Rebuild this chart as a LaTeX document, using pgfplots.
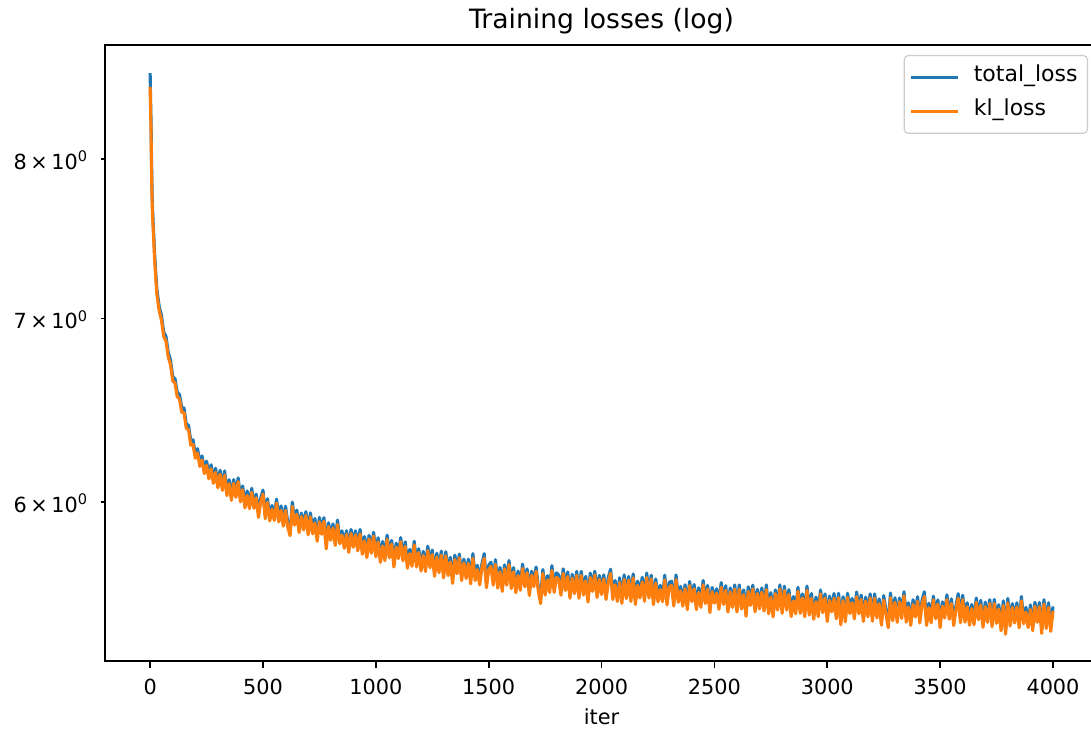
\documentclass[border=0pt]{standalone}
\usepackage{fontspec}
\setmainfont{DejaVu Sans}
\usepackage{pgfplots}
\usepackage{pgfplotstable}
\pgfplotsset{compat=1.18}
\definecolor{mplblue}{HTML}{1F77B4}
\definecolor{mplorange}{HTML}{FF7F0E}
\definecolor{legframe}{HTML}{CCCCCC}

\pgfplotstableread{
iter total kl
0 8.600 8.500
2 8.405 8.330
4 8.265 8.200
6 8.010 7.950
8 7.830 7.780
10 7.695 7.650
15 7.540 7.500
20 7.385 7.350
25 7.272 7.240
30 7.170 7.140
40 7.073 7.045
50 7.018 6.990
60 6.921 6.895
70 6.896 6.868
80 6.804 6.778
90 6.761 6.735
100 6.667 6.642
110 6.655 6.630
120 6.580 6.555
130 6.567 6.542
140 6.495 6.470
150 6.493 6.468
160 6.408 6.384
170 6.399 6.375
180 6.317 6.293
190 6.322 6.298
200 6.248 6.225
210 6.275 6.252
220 6.205 6.182
230 6.237 6.215
240 6.167 6.145
250 6.210 6.188
260 6.140 6.118
270 6.191 6.170
280 6.116 6.095
290 6.173 6.152
300 6.093 6.072
310 6.162 6.142
320 6.077 6.059
330 6.159 6.137
340 6.052 6.033
350 6.114 6.093
360 6.029 6.009
370 6.114 6.096
380 6.046 6.024
390 6.123 6.104
400 6.022 6.001
410 6.082 6.062
420 5.989 5.971
430 6.056 6.034
440 5.986 5.967
450 6.070 6.049
460 5.989 5.969
470 6.040 6.022
480 5.945 5.923
490 6.021 6.002
500 6.061 6.040
510 5.937 5.917
520 6.017 5.999
530 5.928 5.906
540 5.983 5.964
550 5.930 5.909
560 6.015 5.995
570 5.919 5.901
580 5.981 5.959
590 5.899 5.880
600 5.979 5.958
610 5.894 5.874
620 5.851 5.833
630 6.000 5.978
640 5.904 5.885
650 5.960 5.939
660 5.868 5.848
670 5.945 5.927
680 5.883 5.861
690 5.952 5.933
700 5.858 5.837
710 5.946 5.926
720 5.860 5.842
730 5.918 5.896
740 5.825 5.806
750 5.923 5.902
760 5.860 5.840
770 5.922 5.904
780 5.791 5.769
790 5.897 5.878
800 5.832 5.811
810 5.891 5.871
820 5.804 5.786
830 5.910 5.888
840 5.813 5.794
850 5.857 5.836
860 5.792 5.772
870 5.858 5.840
880 5.774 5.752
890 5.864 5.845
900 5.798 5.777
910 5.857 5.837
920 5.777 5.759
930 5.864 5.842
940 5.762 5.743
950 5.829 5.808
960 5.747 5.727
970 5.835 5.817
980 5.770 5.748
990 5.850 5.831
1000 5.752 5.731
1010 5.823 5.803
1020 5.722 5.704
1030 5.805 5.783
1040 5.731 5.712
1050 5.836 5.815
1060 5.746 5.726
1070 5.810 5.792
1080 5.704 5.682
1090 5.797 5.778
1100 5.743 5.722
1110 5.824 5.804
1120 5.729 5.711
1130 5.803 5.781
1140 5.695 5.676
1150 5.767 5.746
1160 5.705 5.685
1170 5.806 5.788
1180 5.704 5.682
1190 5.770 5.751
1200 5.684 5.663
1210 5.757 5.737
1220 5.678 5.660
1230 5.782 5.760
1240 5.697 5.678
1250 5.763 5.742
1260 5.658 5.638
1270 5.748 5.730
1280 5.677 5.655
1290 5.758 5.739
1300 5.651 5.630
1310 5.755 5.735
1320 5.659 5.641
1330 5.728 5.706
1340 5.623 5.604
1350 5.739 5.718
1360 5.670 5.650
1370 5.744 5.726
1380 5.639 5.617
1390 5.720 5.701
1400 5.648 5.627
1410 5.719 5.699
1420 5.620 5.602
1430 5.746 5.724
1440 5.636 5.617
1450 5.690 5.669
1460 5.617 5.597
1470 5.696 5.678
1480 5.746 5.724
1490 5.603 5.584
1500 5.690 5.669
1510 5.705 5.685
1520 5.614 5.596
1530 5.717 5.695
1540 5.601 5.582
1550 5.680 5.659
1560 5.587 5.567
1570 5.692 5.674
1580 5.618 5.596
1590 5.713 5.694
1600 5.601 5.580
1610 5.679 5.659
1620 5.579 5.561
1630 5.663 5.641
1640 5.591 5.572
1650 5.696 5.675
1660 5.608 5.588
1670 5.673 5.655
1680 5.569 5.547
1690 5.662 5.643
1700 5.610 5.589
1710 5.682 5.662
1720 5.584 5.566
1730 5.532 5.510
1740 5.670 5.651
1750 5.570 5.549
1760 5.641 5.621
1770 5.580 5.562
1780 5.688 5.666
1790 5.581 5.562
1800 5.654 5.633
1810 5.644 5.624
1820 5.567 5.549
1830 5.673 5.651
1840 5.590 5.571
1850 5.658 5.637
1860 5.555 5.535
1870 5.647 5.629
1880 5.578 5.556
1890 5.661 5.642
1900 5.556 5.535
1910 5.661 5.641
1920 5.568 5.550
1930 5.638 5.616
1940 5.536 5.517
1950 5.653 5.632
1960 5.587 5.567
1970 5.662 5.644
1980 5.560 5.538
1990 5.642 5.623
2000 5.573 5.552
2010 5.645 5.625
2020 5.547 5.529
2030 5.633 5.611
2040 5.671 5.652
2050 5.550 5.529
2060 5.618 5.598
2070 5.538 5.520
2080 5.631 5.609
2090 5.530 5.511
2100 5.644 5.623
2110 5.553 5.533
2120 5.637 5.619
2130 5.542 5.520
2140 5.649 5.630
2150 5.527 5.506
2160 5.615 5.595
2170 5.554 5.536
2180 5.633 5.611
2190 5.540 5.521
2200 5.653 5.632
2210 5.556 5.536
2220 5.643 5.625
2230 5.527 5.505
2240 5.625 5.606
2250 5.539 5.518
2260 5.595 5.575
2270 5.537 5.519
2280 5.643 5.621
2290 5.523 5.504
2300 5.609 5.588
2310 5.615 5.595
2320 5.517 5.499
2330 5.644 5.622
2340 5.535 5.516
2350 5.590 5.569
2360 5.518 5.498
2370 5.598 5.580
2380 5.504 5.482
2390 5.613 5.594
2400 5.540 5.519
2410 5.599 5.579
2420 5.500 5.482
2430 5.584 5.562
2440 5.512 5.493
2450 5.618 5.597
2460 5.530 5.510
2470 5.595 5.577
2480 5.491 5.469
2490 5.585 5.566
2500 5.533 5.512
2510 5.579 5.559
2520 5.502 5.484
2530 5.608 5.586
2540 5.525 5.506
2550 5.593 5.572
2560 5.491 5.471
2570 5.583 5.565
2580 5.514 5.492
2590 5.597 5.578
2600 5.492 5.471
2610 5.597 5.577
2620 5.503 5.485
2630 5.574 5.552
2640 5.471 5.452
2650 5.588 5.567
2660 5.521 5.501
2670 5.596 5.578
2680 5.494 5.472
2690 5.576 5.557
2700 5.506 5.485
2710 5.583 5.563
2720 5.493 5.475
2730 5.597 5.575
2740 5.482 5.463
2750 5.561 5.540
2760 5.469 5.449
2770 5.574 5.556
2780 5.502 5.480
2790 5.597 5.578
2800 5.486 5.465
2810 5.591 5.571
2820 5.498 5.480
2830 5.575 5.553
2840 5.469 5.450
2850 5.543 5.522
2860 5.483 5.463
2870 5.586 5.568
2880 5.487 5.465
2890 5.555 5.536
2900 5.471 5.450
2910 5.592 5.572
2920 5.475 5.457
2930 5.557 5.535
2940 5.457 5.438
2950 5.540 5.519
2960 5.470 5.450
2970 5.573 5.555
2980 5.490 5.468
2990 5.555 5.536
3000 5.449 5.428
3010 5.545 5.525
3020 5.490 5.472
3030 5.557 5.535
3040 5.459 5.440
3050 5.558 5.537
3060 5.433 5.413
3070 5.542 5.524
3080 5.448 5.426
3090 5.558 5.539
3100 5.485 5.464
3110 5.534 5.514
3120 5.458 5.440
3130 5.564 5.542
3140 5.482 5.463
3150 5.550 5.529
3160 5.448 5.428
3170 5.540 5.522
3180 5.471 5.449
3190 5.555 5.536
3200 5.450 5.429
3210 5.555 5.535
3220 5.462 5.444
3230 5.532 5.510
3240 5.430 5.411
3250 5.547 5.526
3260 5.481 5.461
3270 5.418 5.400
3280 5.559 5.537
3290 5.450 5.431
3300 5.537 5.516
3310 5.444 5.424
3320 5.536 5.518
3330 5.464 5.442
3340 5.565 5.546
3350 5.446 5.425
3360 5.514 5.494
3370 5.428 5.410
3380 5.528 5.506
3390 5.467 5.448
3400 5.542 5.521
3410 5.441 5.421
3420 5.526 5.508
3430 5.565 5.543
3440 5.429 5.410
3450 5.512 5.491
3460 5.442 5.422
3470 5.545 5.527
3480 5.462 5.440
3490 5.527 5.508
3500 5.421 5.400
3510 5.518 5.498
3520 5.462 5.444
3530 5.551 5.529
3540 5.457 5.438
3550 5.532 5.511
3560 5.429 5.409
3570 5.499 5.481
3580 5.556 5.534
3590 5.441 5.422
3600 5.549 5.528
3610 5.445 5.425
3620 5.514 5.496
3630 5.433 5.411
3640 5.506 5.487
3650 5.434 5.413
3660 5.536 5.516
3670 5.454 5.436
3680 5.525 5.503
3690 5.420 5.401
3700 5.517 5.496
3710 5.444 5.424
3720 5.528 5.510
3730 5.426 5.404
3740 5.529 5.510
3750 5.440 5.419
3760 5.505 5.485
3770 5.404 5.386
3780 5.523 5.501
3790 5.389 5.370
3800 5.534 5.513
3810 5.427 5.407
3820 5.510 5.492
3830 5.443 5.421
3840 5.514 5.495
3850 5.420 5.399
3860 5.543 5.523
3870 5.435 5.417
3880 5.493 5.471
3890 5.419 5.400
3900 5.504 5.483
3910 5.406 5.386
3920 5.516 5.498
3930 5.446 5.424
3940 5.515 5.496
3950 5.395 5.374
3960 5.528 5.508
3970 5.414 5.396
3980 5.514 5.492
3990 5.402 5.383
4000 5.497 5.476
}\losses

\newcommand{\tickfont}{\fontsize{10.4}{12.5}\selectfont}

\begin{document}
\begin{tikzpicture}
\begin{axis}[
  scale only axis,
  width=496.5pt, height=308pt,
  at={(52.5pt,33.5pt)}, anchor=south west,
  xmin=-200, xmax=4199.5,
  ymode=log, ymin=5.251, ymax=8.805,
  xtick={0,500,...,4000},
  scaled x ticks=false,
  /pgf/number format/1000 sep={},
  /pgf/number format/assume math mode=true,
  ytick={6,7,8},
  yticklabels={6\,×\,10\textsuperscript{0},7\,×\,10\textsuperscript{0},8\,×\,10\textsuperscript{0}},
  minor y tick num=0,
  tick pos=left,
  tick align=outside,
  xtick style={/pgfplots/major tick length=3.65pt},
  ytick style={/pgfplots/major tick length=2.1pt},
  every tick/.style={black, line width=0.83pt},
  axis line style={line width=0.83pt},
  tick label style={font=\tickfont},
  xticklabel style={anchor=north, inner sep=0pt, yshift=-4.5pt},
  yticklabel style={anchor=base east, inner sep=0pt, xshift=-4pt, yshift=-5pt},
  title={Training losses (log)},
  title style={at={(axis description cs:0.5,1)}, anchor=base, inner sep=0pt, yshift=2.25pt, font=\fontsize{13.3}{16}\selectfont},
  xlabel={iter},
  xlabel style={at={(axis description cs:0.5,0)}, anchor=base, inner sep=0pt, yshift=-32pt, font=\tickfont},
  legend cell align=left,
  legend style={at={(axis description cs:1,1)}, anchor=north east, xshift=-5pt, yshift=-5pt,
    draw=legframe, line width=0.6pt, rounded corners=2pt, fill=white, fill opacity=0.8, text opacity=1,
    inner xsep=2.4pt, inner ysep=4.5pt, row sep=4.15pt, column sep=4.5pt,
    font=\fontsize{11}{13}\selectfont,
    nodes={inner xsep=2.5pt, inner ysep=0pt, text height=8.5pt, text depth=4.35pt},
    cells={anchor=base west}},
  legend image code/.code={\draw[#1, line width=1.56pt] (0pt,2pt) -- (23.8pt,2pt);},
  every axis plot/.append style={line width=1.56pt, line join=round},
]
\addplot[mplblue] table[x=iter, y=total] {\losses};
\addlegendentry{total\_loss}
\addplot[mplorange] table[x=iter, y=kl] {\losses};
\addlegendentry{kl\_loss}
\end{axis}
\pgfresetboundingbox
\path[use as bounding box] (0pt,0pt) rectangle (545.5pt,364pt);
\end{tikzpicture}
\end{document}
